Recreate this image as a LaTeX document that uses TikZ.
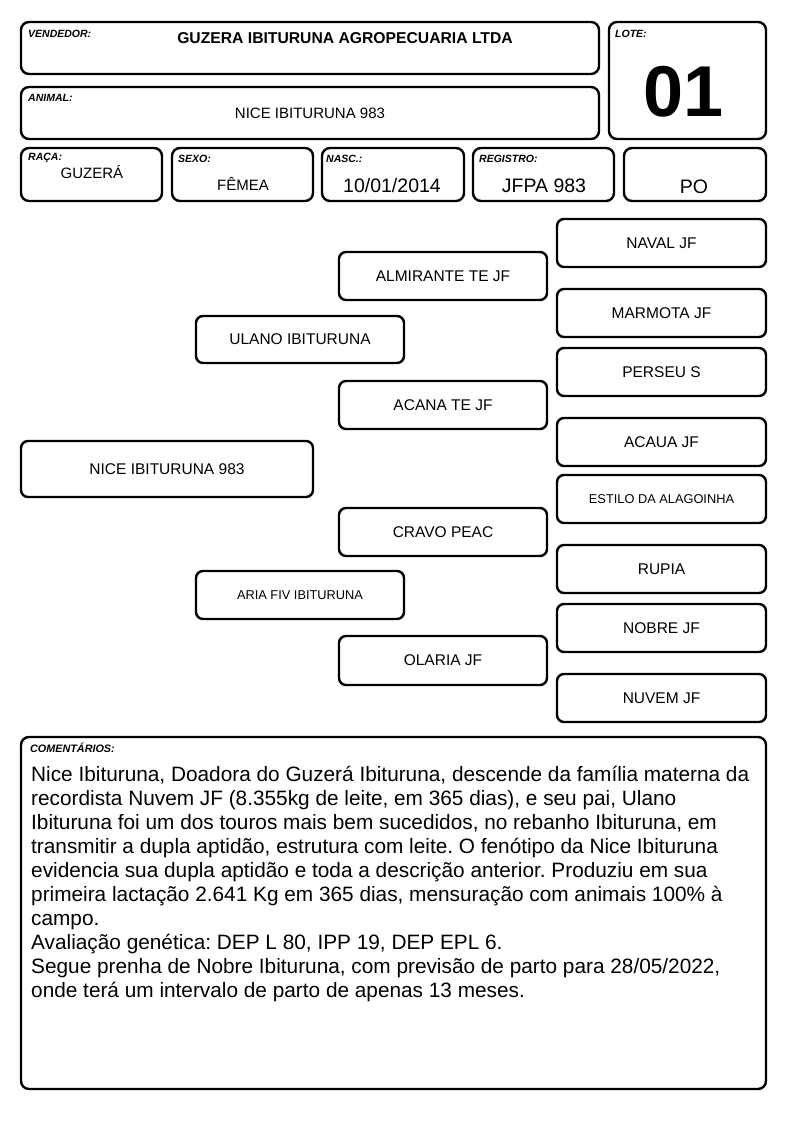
\documentclass[tikz,border=0pt]{standalone}
\usepackage{fontspec}
\setmainfont{Liberation Sans}
\frenchspacing
\begin{document}
\begin{tikzpicture}[x=1pt,y=-1pt,
  box/.style={draw=black,line width=2.4pt,rounded corners=8pt},
  lab/.style={anchor=north west,inner sep=0pt,font=\fontsize{10.5}{12}\selectfont\bfseries\itshape},
  txt/.style={inner sep=0pt,font=\fontsize{15}{18}\selectfont},
  big/.style={inner sep=0pt,font=\fontsize{19.5}{22}\selectfont},
  ped/.style={draw=black,line width=2.4pt,rounded corners=7pt,inner sep=0pt,font=\fontsize{15.5}{18}\selectfont},
  sml/.style={font=\fontsize{12.8}{15}\selectfont}]
\useasboundingbox (0,0) rectangle (794,1123);
% header boxes
\draw[box] (21,22) rectangle (599,74);
\draw[box] (609,22) rectangle (766,139);
\draw[box] (21,87) rectangle (599,139);
\draw[box] (21,148) rectangle (162,201);
\draw[box] (172,148) rectangle (313,201);
\draw[box] (322,148) rectangle (464,201);
\draw[box] (473,148) rectangle (614,201);
\draw[box] (624,148) rectangle (766,201);
\node[lab] (lv) at (28,30) {VENDEDOR:};
\node[txt,font=\fontsize{15.7}{18}\selectfont\bfseries] (vend) at (345,38) {GUZERA IBITURUNA AGROPECUARIA LTDA};
\node[lab] (ll) at (615,30) {LOTE:};
\node[inner sep=0pt,font=\fontsize{72}{80}\selectfont\bfseries] (lote) at (684,92) {01};
\node[lab] (la) at (28,94) {ANIMAL:};
\node[txt] (anim) at (310,113) {NICE IBITURUNA 983};
\node[lab] (lr) at (28,153) {RAÇA:};
\node[txt] (raca) at (92,172) {GUZERÁ};
\node[lab] (ls) at (178,155) {SEXO:};
\node[txt] (sexo) at (243,184) {FÊMEA};
\node[lab] (ln) at (326,155) {NASC.:};
\node[big] (nasc) at (392,186) {10/01/2014};
\node[lab] (lg) at (479,155) {REGISTRO:};
\node[big] (reg) at (544,186) {JFPA 983};
\node[big] (po) at (694,187) {PO};
% pedigree
\node[ped,minimum width=292pt,minimum height=56pt] (p0) at (167,469) {NICE IBITURUNA 983};
\node[ped,minimum width=208pt,minimum height=47pt] (p1) at (300,339.5) {ULANO IBITURUNA};
\node[ped,sml,minimum width=208pt,minimum height=48pt] (p2) at (300,595) {ARIA FIV IBITURUNA};
\node[ped,minimum width=208pt,minimum height=48pt] (p11) at (443,276) {ALMIRANTE TE JF};
\node[ped,minimum width=208pt,minimum height=48pt] (p12) at (443,405) {ACANA TE JF};
\node[ped,minimum width=208pt,minimum height=48pt] (p21) at (443,532) {CRAVO PEAC};
\node[ped,minimum width=208pt,minimum height=49pt] (p22) at (443,660.5) {OLARIA JF};
\node[ped,minimum width=209pt,minimum height=48pt] (q1) at (661.5,243) {NAVAL JF};
\node[ped,minimum width=209pt,minimum height=48pt] (q2) at (661.5,313) {MARMOTA JF};
\node[ped,minimum width=209pt,minimum height=48pt] (q3) at (661.5,372) {PERSEU S};
\node[ped,minimum width=209pt,minimum height=48pt] (q4) at (661.5,442) {ACAUA JF};
\node[ped,sml,minimum width=209pt,minimum height=48pt] (q5) at (661.5,499) {ESTILO DA ALAGOINHA};
\node[ped,minimum width=209pt,minimum height=48pt] (q6) at (661.5,569) {RUPIA};
\node[ped,minimum width=209pt,minimum height=48pt] (q7) at (661.5,628) {NOBRE JF};
\node[ped,minimum width=209pt,minimum height=48pt] (q8) at (661.5,698) {NUVEM JF};
% comments
\draw[box] (21,737) rectangle (766,1089);
\node[lab,font=\fontsize{10.8}{12}\selectfont\bfseries\itshape] (lc) at (30,743) {COMENTÁRIOS:};
\node[anchor=north west,inner sep=0pt,align=left,font=\fontsize{20.8}{24}\selectfont] (com) at (31,766) {Nice Ibituruna, Doadora do Guzerá Ibituruna, descende da família materna da\\
recordista Nuvem JF (8.355kg de leite, em 365 dias), e seu pai, Ulano\\
Ibituruna foi um dos touros mais bem sucedidos, no rebanho Ibituruna, em\\
transmitir a dupla aptidão, estrutura com leite. O fenótipo da Nice Ibituruna\\
evidencia sua dupla aptidão e toda a descrição anterior. Produziu em sua\\
primeira lactação 2.641 Kg em 365 dias, mensuração com animais 100\% à\\
campo.\\
Avaliação genética: DEP L 80, IPP 19, DEP EPL 6.\\
Segue prenha de Nobre Ibituruna, com previsão de parto para 28/05/2022,\\
onde terá um intervalo de parto de apenas 13 meses.};
\end{tikzpicture}
\end{document}
